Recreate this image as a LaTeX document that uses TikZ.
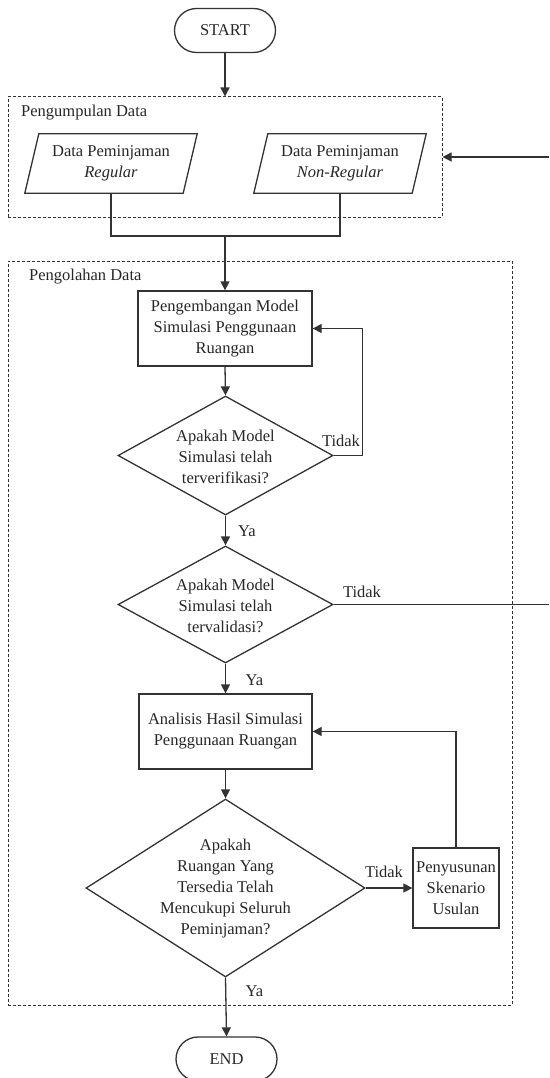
\documentclass[tikz,border=0pt]{standalone}
\usepackage{fontspec}
\setmainfont{Liberation Serif}
\usetikzlibrary{arrows.meta,shapes.geometric}
\begin{document}
\begin{tikzpicture}[x=1pt,y=-1pt,
  every node/.style={font=\fontsize{16.5}{21}\selectfont, text=black!85},
  line/.style={line width=1.3pt, draw=black!80},
  arr/.style={line, -{Triangle[length=9pt,width=9pt]}},
  terminal/.style={line, rounded corners=22pt, minimum width=101pt, minimum height=44pt, inner sep=0pt},
  procbox/.style={line, rectangle, inner sep=0pt, align=center},
  decision/.style={line, diamond, inner sep=0pt},
  group/.style={draw=black!80, line width=1pt, dash pattern=on 3pt off 2pt, rectangle, inner sep=0pt},
  iobody/.style={rectangle, inner sep=0pt, align=center, minimum width=158pt, minimum height=59pt},
  lbl/.style={inner sep=0pt}
]
\useasboundingbox (0,0) rectangle (549,1078);

% groups
\node[group, minimum width=434pt, minimum height=120pt] (g1) at (225,157) {};
\node[group, minimum width=504pt, minimum height=744pt] (g2) at (260,633) {};
\node[lbl, anchor=west] (g1lbl) at (21,113) {Pengumpulan Data};
\node[lbl, anchor=west] (g2lbl) at (29,277) {Pengolahan Data};

% start
\node[terminal] (start) at (225,30.5) {START};

% io
\node[iobody] (reg) at (111,163.5) {Data Peminjaman\\\textit{Regular}};
\node[iobody] (nreg) at (340,163.5) {Data Peminjaman\\\textit{Non-Regular}};
\foreach \n in {reg,nreg}{
  \draw[line] ([xshift=7pt]\n.north west) -- ([xshift=7pt]\n.north east)
    -- ([xshift=-7pt]\n.south east) -- ([xshift=-7pt]\n.south west) -- cycle;
}
\coordinate (join) at (225,236);
\coordinate (ext1) at (549,157);

% process
\node[procbox, minimum width=174pt, minimum height=75pt] (box1) at (225,328.5)
  {Pengembangan Model\\Simulasi Penggunaan\\Ruangan};
\node[decision, minimum width=215pt, minimum height=119pt] (d1) at (225.5,455.5) {};
\node[lbl, align=center] (d1t) at (225.5,457) {Apakah Model\\Simulasi telah\\terverifikasi?};
\node[decision, minimum width=215pt, minimum height=117pt] (d2) at (225.5,604.5) {};
\node[lbl, align=center] (d2t) at (225.5,606) {Apakah Model\\Simulasi telah\\tervalidasi?};
\coordinate (ext2) at (549,604.5);
\node[procbox, minimum width=173pt, minimum height=75pt] (box2) at (225.5,731.5)
  {Analisis Hasil Simulasi\\Penggunaan Ruangan};
\node[decision, minimum width=279pt, minimum height=178pt] (d3) at (225.5,888) {};
\node[lbl, align=center] (d3t) at (225.5,889) {Apakah\\Ruangan Yang\\Tersedia Telah\\Mencukupi Seluruh\\Peminjaman?};
\node[procbox, minimum width=86pt, minimum height=80pt] (box3) at (456,888)
  {Penyusunan\\Skenario\\Usulan};
\node[terminal] (endn) at (226.5,1059) {END};

% connectors
\draw[arr] (start.south) -- (g1.north);
\draw[line] (reg.south) |- (join) -| (nreg.south);
\draw[arr] (join) -- (box1.north);
\draw[arr] (ext1) -- (g1.east);
\draw[arr] (box1.south) -- (d1.north);
\draw[arr] (d1.east) -- ++(29,0) |- (box1.east);
\draw[arr] (d1.south) -- (d2.north);
\draw[line] (d2.east) -- (ext2);
\draw[arr] (d2.south) -- (box2.north);
\draw[arr] (box2.south) -- (d3.north);
\draw[arr] (d3.east) -- (box3.west);
\draw[arr] (box3.north) |- (box2.east);
\draw[arr] (d3.south) -- (endn.north);

% labels
\node[lbl] (t1) at (341,441) {Tidak};
\node[lbl] (y1) at (247,531) {Ya};
\node[lbl] (t2) at (362,592) {Tidak};
\node[lbl] (y2) at (254.5,680) {Ya};
\node[lbl] (t3) at (384,872) {Tidak};
\node[lbl] (y3) at (254.5,991) {Ya};
\end{tikzpicture}
\end{document}
